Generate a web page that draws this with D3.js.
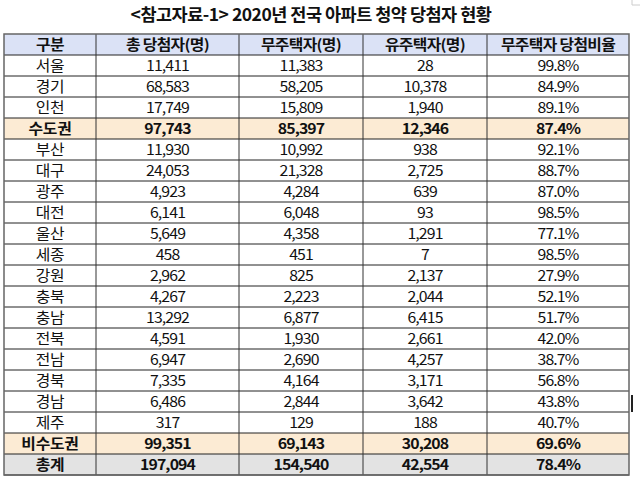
<!DOCTYPE html>
<html><head><meta charset="utf-8">
<script src="https://cdn.jsdelivr.net/npm/d3@7"></script>
<style>
html,body{margin:0;padding:0;background:#fff;}
svg{display:block;}
text{font-family:"Noto Sans CJK KR","Noto Sans",sans-serif;}
</style></head><body>
<svg id="c" width="640" height="489"></svg>
<script>
const title = "<참고자료-1> 2020년 전국 아파트 청약 당첨자 현황";
const headers = ["구분","총 당첨자(명)","무주택자(명)","유주택자(명)","무주택자 당첨비율"];
const regions = ["서울","경기","인천","수도권","부산","대구","광주","대전","울산","세종","강원","충북","충남","전북","전남","경북","경남","제주","비수도권","총계"];
const totalWinners = ["11,411","68,583","17,749","97,743","11,930","24,053","4,923","6,141","5,649","458","2,962","4,267","13,292","4,591","6,947","7,335","6,486","317","99,351","197,094"];
const noHouse = ["11,383","58,205","15,809","85,397","10,992","21,328","4,284","6,048","4,358","451","825","2,223","6,877","1,930","2,690","4,164","2,844","129","69,143","154,540"];
const hasHouse = ["28","10,378","1,940","12,346","938","2,725","639","93","1,291","7","2,137","2,044","6,415","2,661","4,257","3,171","3,642","188","30,208","42,554"];
const ratio = ["99.8%","84.9%","89.1%","87.4%","92.1%","88.7%","87.0%","98.5%","77.1%","98.5%","27.9%","52.1%","51.7%","42.0%","38.7%","56.8%","43.8%","40.7%","69.6%","78.4%"];
const rowKind = ["n","n","n","sub","n","n","n","n","n","n","n","n","n","n","n","n","n","n","sub","total"];

const svg = d3.select("#c");
const colEdges = [4,96,239,363,487,629];
const tableTop = 34, headerH = 21, tableBottom = 475;
const fills = {n:"#ffffff", sub:"#fcebd4", total:"#e3e3e3"};
const FS = 14.4, SX = 1.1;

svg.append("text").attr("x",311).attr("y",21).attr("text-anchor","middle")
  .attr("font-size",17.5).attr("font-weight","bold").attr("letter-spacing",-0.5).attr("fill","#111").text(title);

const y = d3.scaleBand().domain(d3.range(regions.length)).range([tableTop+headerH, tableBottom]).padding(0);
const x0 = colEdges[0], x1 = colEdges[colEdges.length-1];

function cellText(sel, cx, by, txt, bold, ls){
  sel.append("text")
    .attr("transform", `translate(${cx},${by}) scale(${SX},1)`)
    .attr("text-anchor","middle").attr("font-size",FS)
    .attr("font-weight", bold?"bold":"normal")
    .attr("letter-spacing", ls).attr("fill","#111").text(txt);
}

// header
svg.append("rect").attr("x",x0).attr("y",tableTop).attr("width",x1-x0).attr("height",headerH).attr("fill","#dbe2f6");
headers.forEach((h,i)=>{
  cellText(svg, (colEdges[i]+colEdges[i+1])/2, tableTop+headerH/2+5.5, h, true, -0.6);
});

const cols = [regions,totalWinners,noHouse,hasHouse,ratio];
const g = svg.append("g");
regions.forEach((r,i)=>{
  const k = rowKind[i];
  g.append("rect").attr("x",x0).attr("y",y(i)).attr("width",x1-x0).attr("height",y.bandwidth()).attr("fill",fills[k]);
  cols.forEach((col,j)=>{
    cellText(g, (colEdges[j]+colEdges[j+1])/2, y(i)+y.bandwidth()/2+5.5, col[i], k!=="n", j===0?-0.2:-0.8);
  });
});

// grid lines
const lines = svg.append("g");
d3.range(regions.length+1).forEach(i=>{
  const yy = i<regions.length ? y(i) : tableBottom;
  lines.append("line").attr("x1",x0).attr("x2",x1).attr("y1",yy).attr("y2",yy)
    .attr("stroke", "#222").attr("stroke-width",1);
});
colEdges.slice(1,-1).forEach(cx=>{
  lines.append("line").attr("x1",cx).attr("x2",cx).attr("y1",tableTop).attr("y2",tableBottom)
    .attr("stroke","#333").attr("stroke-width",1);
});
lines.append("rect").attr("x",x0).attr("y",tableTop).attr("width",x1-x0).attr("height",tableBottom-tableTop)
  .attr("fill","none").attr("stroke","#666").attr("stroke-width",1.5);

// small artifacts at right edge
svg.append("rect").attr("x",631).attr("y",395).attr("width",2).attr("height",17).attr("fill","#222");
svg.append("path").attr("d","M632,0 V5 H640").attr("fill","none").attr("stroke","#ccc");
</script></body></html>
